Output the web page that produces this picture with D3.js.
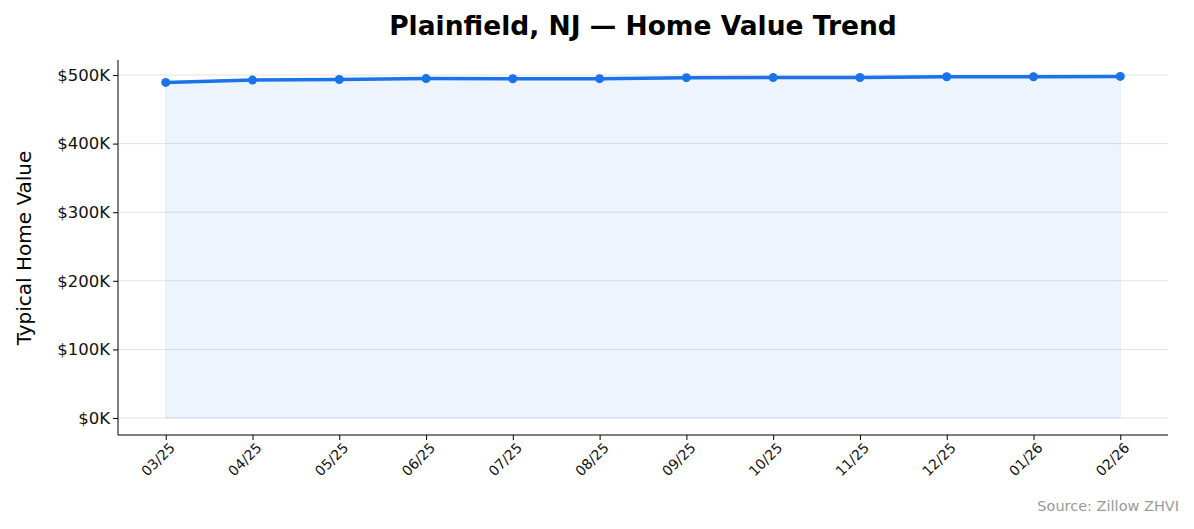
<!DOCTYPE html>
<html><head><meta charset="utf-8">
<script src="https://cdn.jsdelivr.net/npm/d3@7"></script>
<style>body{margin:0;background:#fff;font-family:"DejaVu Sans",sans-serif}</style>
</head><body><svg id="chart" width="1194" height="529"></svg>
<script>
const months = ["03/25","04/25","05/25","06/25","07/25","08/25","09/25","10/25","11/25","12/25","01/26","02/26"];
const values = [489200,492600,493400,494800,494600,494700,496200,496300,496400,497500,497500,498000];
const yTicks = [0,100000,200000,300000,400000,500000];

const svg = d3.select("#chart");
const m = {left:118, right:1168, top:60, bottom:435};
const x = d3.scalePoint().domain(months).range([m.left, m.right]).padding(0.55);
const y = d3.scaleLinear().domain([-24800, 521900]).range([m.bottom, m.top]);

// grid
svg.append("g").selectAll("line").data(yTicks).enter().append("line")
    .attr("x1", m.left).attr("x2", m.right)
    .attr("y1", d => y(d)).attr("y2", d => y(d))
    .attr("stroke", "#e3e3e3").attr("stroke-width", 1);

let data = months.map((d,i) => ({m:d, v:values[i]}));
svg.append("path").datum(data)
    .attr("d", d3.area().x(d => x(d.m)).y0(y(0)).y1(d => y(d.v)))
    .attr("fill", "#1a73e8").attr("fill-opacity", 0.08)
    .attr("stroke", "#1a73e8").attr("stroke-opacity", 0.1);
svg.append("path").datum(data)
    .attr("d", d3.line().x(d => x(d.m)).y(d => y(d.v)))
    .attr("fill", "none").attr("stroke", "#1a73e8").attr("stroke-width", 3.5);
svg.append("g").selectAll("circle").data(data).enter().append("circle")
    .attr("cx", d => x(d.m)).attr("cy", d => y(d.v)).attr("r", 4.5).attr("fill", "#1a73e8");

// axes
const xa = svg.append("g").attr("transform", `translate(0,${m.bottom})`)
    .call(d3.axisBottom(x).tickSize(5).tickSizeOuter(0));
xa.select(".domain").attr("d", `M${m.left},0H${m.right}`);
xa.selectAll("text").attr("font-size", 14).attr("font-family", "DejaVu Sans").attr("fill", "#111")
    .attr("text-anchor", "end").attr("dx", "-0.2em").attr("dy", "0.6em")
    .attr("transform", "rotate(-45)");
const ya = svg.append("g").attr("transform", `translate(${m.left},0)`)
    .call(d3.axisLeft(y).tickValues(yTicks).tickSize(5).tickFormat(d => "$" + d/1000 + "K"));
ya.select(".domain").attr("d", `M0,${m.top}V${m.bottom}`);
ya.selectAll("text").attr("font-size", 16.5).attr("font-family", "DejaVu Sans").attr("fill", "#111");

svg.append("text").attr("x", 643).attr("y", 35).attr("text-anchor", "middle")
    .attr("font-size", 26.5).attr("font-weight", "bold").text("Plainfield, NJ — Home Value Trend");
svg.append("text").attr("transform", "translate(31,248) rotate(-90)").attr("text-anchor", "middle")
    .attr("font-size", 20).text("Typical Home Value");
svg.append("text").attr("x", 1179).attr("y", 511).attr("text-anchor", "end")
    .attr("font-size", 14.5).attr("fill", "#999").text("Source: Zillow ZHVI");
</script></body></html>
